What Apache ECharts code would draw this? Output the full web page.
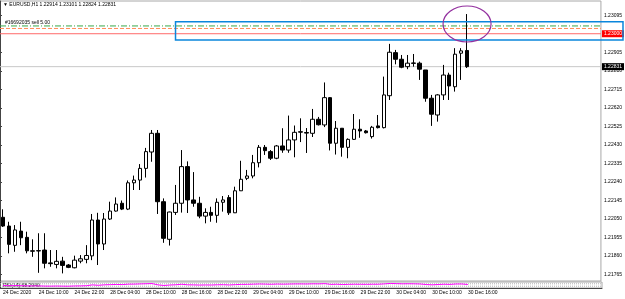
<!DOCTYPE html>
<html>
<head>
<meta charset="utf-8">
<script src="https://cdn.jsdelivr.net/npm/echarts@6/dist/echarts.min.js"></script>
<style>
  html, body { margin: 0; padding: 0; background: #fff; }
  #chart { width: 625px; height: 299px; }
</style>
</head>
<body>
<div id="chart"></div>
<script>
// EURUSD H1 bars
const opens = [
  1.22058, 1.22013, 1.21914, 1.21987, 1.21955, 1.21886, 1.21885, 1.21890, 1.21824, 1.21816,
  1.21833, 1.21813, 1.21799, 1.21833, 1.21842, 1.21860, 1.22044, 1.21921, 1.22049, 1.22090,
  1.22130, 1.22100, 1.22235, 1.22249, 1.22309, 1.22393, 1.22489, 1.22138, 1.21945, 1.22083,
  1.22130, 1.22318, 1.22147, 1.22130, 1.22064, 1.22083, 1.22068, 1.22135, 1.22159, 1.22081,
  1.22194, 1.22258, 1.22270, 1.22338, 1.22417, 1.22395, 1.22361, 1.22424, 1.22403, 1.22455,
  1.22497, 1.22493, 1.22489, 1.22561, 1.22532, 1.22672, 1.22438, 1.22515, 1.22417, 1.22458,
  1.22510, 1.22501, 1.22472, 1.22527, 1.22518, 1.22682, 1.22903, 1.22869, 1.22831, 1.22850,
  1.22849, 1.22814, 1.22669, 1.22583, 1.22686, 1.22788, 1.22728, 1.22900, 1.22914
];
const highs = [
  1.22099, 1.22035, 1.22018, 1.22035, 1.21984, 1.21945, 1.21976, 1.21976, 1.21890, 1.21890,
  1.21855, 1.21818, 1.21861, 1.21864, 1.21915, 1.22075, 1.22081, 1.22080, 1.22138, 1.22160,
  1.22144, 1.22247, 1.22272, 1.22331, 1.22414, 1.22506, 1.22506, 1.22155, 1.22087, 1.22224,
  1.22403, 1.22345, 1.22290, 1.22163, 1.22104, 1.22112, 1.22155, 1.22167, 1.22172, 1.22215,
  1.22348, 1.22301, 1.22378, 1.22429, 1.22429, 1.22403, 1.22429, 1.22515, 1.22580, 1.22529,
  1.22566, 1.22516, 1.22614, 1.22573, 1.22750, 1.22675, 1.22552, 1.22516, 1.22463, 1.22588,
  1.22561, 1.22506, 1.22527, 1.22583, 1.22780, 1.22948, 1.22917, 1.22891, 1.22891, 1.22896,
  1.22857, 1.22814, 1.22686, 1.22690, 1.22840, 1.22800, 1.22926, 1.22926, 1.23101
];
const lows = [
  1.22008, 1.21873, 1.21881, 1.21915, 1.21873, 1.21855, 1.21773, 1.21796, 1.21804, 1.21796,
  1.21770, 1.21797, 1.21796, 1.21822, 1.21822, 1.21838, 1.21813, 1.21890, 1.22044, 1.22087,
  1.22095, 1.22095, 1.22198, 1.22198, 1.22262, 1.22343, 1.22075, 1.21927, 1.21913, 1.22070,
  1.22082, 1.22080, 1.22112, 1.22053, 1.22027, 1.22035, 1.22030, 1.22087, 1.22070, 1.22080,
  1.22193, 1.22249, 1.22258, 1.22314, 1.22378, 1.22352, 1.22356, 1.22389, 1.22389, 1.22366,
  1.22444, 1.22388, 1.22470, 1.22529, 1.22521, 1.22401, 1.22380, 1.22369, 1.22361, 1.22455,
  1.22466, 1.22488, 1.22462, 1.22514, 1.22514, 1.22660, 1.22843, 1.22823, 1.22818, 1.22831,
  1.22763, 1.22651, 1.22527, 1.22549, 1.22660, 1.22660, 1.22703, 1.22763, 1.22824
];
const closes = [
  1.22013, 1.21919, 1.21993, 1.21953, 1.21886, 1.21884, 1.21887, 1.21822, 1.21820, 1.21832,
  1.21811, 1.21801, 1.21838, 1.21845, 1.21862, 1.22044, 1.21921, 1.22049, 1.22090, 1.22126,
  1.22100, 1.22235, 1.22249, 1.22309, 1.22395, 1.22489, 1.22138, 1.21950, 1.22085, 1.22130,
  1.22318, 1.22147, 1.22130, 1.22064, 1.22083, 1.22068, 1.22135, 1.22147, 1.22081, 1.22194,
  1.22253, 1.22270, 1.22338, 1.22417, 1.22400, 1.22361, 1.22424, 1.22403, 1.22455, 1.22494,
  1.22495, 1.22490, 1.22561, 1.22533, 1.22672, 1.22438, 1.22515, 1.22417, 1.22458, 1.22510,
  1.22501, 1.22492, 1.22520, 1.22518, 1.22686, 1.22905, 1.22869, 1.22828, 1.22849, 1.22848,
  1.22818, 1.22669, 1.22587, 1.22686, 1.22788, 1.22732, 1.22895, 1.22912, 1.22831
];
// RSI(14) sub window
const rsi = [
  42, 38, 41, 39, 36, 35, 35, 32, 31, 33, 31, 30, 34, 35, 38,
  52, 45, 53, 56, 59, 57, 64, 65, 68, 71, 74,
  52, 42, 50, 54, 62, 53,
  52, 49, 51, 50, 54, 55, 51,
  56, 60, 61, 64, 67, 65, 62, 66, 64, 66, 68, 68, 67, 70, 69, 73,
  60, 63, 58, 61,
  63, 62, 61, 63, 63, 69,
  76, 73, 70, 71, 70,
  67, 58, 53, 58,
  63, 60, 67, 67, 58.294
];
// x labels every 6 bars
const timeLabels = [
  '24 Dec 2020', '24 Dec 10:00', '24 Dec 22:00', '28 Dec 04:00', '28 Dec 10:00',
  '28 Dec 16:00', '28 Dec 22:00', '29 Dec 04:00', '29 Dec 10:00', '29 Dec 16:00',
  '29 Dec 22:00', '30 Dec 04:00', '30 Dec 10:00', '30 Dec 16:00'
];
const priceTicks = [
  1.21765, 1.21860, 1.21955, 1.22050, 1.22145, 1.22240, 1.22335,
  1.22430, 1.22525, 1.22620, 1.22715, 1.22810, 1.22905, 1.23095
];
const levelLine = 1.23000;   // red line, red tag
const bidLine = 1.22831;     // grey bid line, black tag
const tpLine = 1.23040;      // green dash-dot
const orderLine = 1.23027;   // orange dashed
const rsiLevels = [30, 70];

const slots = 101; // chart shift leaves empty space on the right
const cats = Array.from({ length: slots }, (_, i) => String(i));
const ohlc = opens.map((o, i) => [o, closes[i], lows[i], highs[i]]);

const FONT = 'Liberation Sans';

// horizontal line across the whole main window, drawn on the hidden 0..1 x axis
const hLine = (name, v, color, type, tag, z) => ({
  name, type: 'line', xAxisIndex: 2, yAxisIndex: 0, z: z || 2,
  data: [[0, v], [1, v]], showSymbol: false, silent: true,
  lineStyle: { color, width: 1, type },
  endLabel: tag ? {
    show: true, distance: 1, formatter: v.toFixed(5), color: '#fff',
    backgroundColor: tag, fontSize: 5, padding: [1, 2], fontFamily: FONT
  } : { show: false }
});

const chart = echarts.init(document.getElementById('chart'), null, { renderer: 'canvas' });

const option = {
  animation: false,
  backgroundColor: '#fff',
  textStyle: { fontFamily: FONT },
  grid: [
    { left: 0, top: 1, width: 602, height: 280, show: true, borderColor: '#a8a8a8', borderWidth: 1 },
    { left: 0, top: 282, width: 602, height: 6, show: true, borderColor: '#a8a8a8', borderWidth: 1 }
  ],
  xAxis: [
    { type: 'category', gridIndex: 0, data: cats, boundaryGap: true, show: false },
    {
      type: 'category', gridIndex: 1, data: cats, boundaryGap: true,
      axisLine: { lineStyle: { color: '#444' } },
      axisTick: { interval: 5, alignWithLabel: true, length: 3, lineStyle: { color: '#444' } },
      axisLabel: {
        interval: 5, align: 'left', fontSize: 5, margin: 2, color: '#000', fontFamily: FONT,
        formatter: (v, idx) => timeLabels[idx / 6] || ''
      },
      splitLine: { show: false }
    },
    { type: 'value', gridIndex: 0, min: 0, max: 1, show: false },
    { type: 'value', gridIndex: 1, min: 0, max: 1, show: false }
  ],
  yAxis: [
    {
      type: 'value', gridIndex: 0, position: 'right', min: 1.21731, max: 1.23168,
      axisLine: { show: true, lineStyle: { color: '#444' } },
      axisTick: { show: true, length: 2, customValues: priceTicks, lineStyle: { color: '#444' } },
      axisLabel: {
        customValues: priceTicks, fontSize: 5, margin: 3, color: '#000', fontFamily: FONT,
        formatter: v => v.toFixed(5)
      },
      splitLine: { show: false }
    },
    {
      type: 'value', gridIndex: 1, position: 'right', min: 0, max: 100,
      axisLine: { show: true, lineStyle: { color: '#444' } },
      axisTick: { show: false }, axisLabel: { show: false }, splitLine: { show: false }
    }
  ],
  series: [
    hLine('bid', bidLine, '#c8c8c8', 'solid', '#000', 1),
    hLine('tp', tpLine, '#3aa84a', [6, 2, 1, 2]),
    hLine('order', orderLine, '#ff8c5a', [4, 2]),
    hLine('level', levelLine, '#ff6a6a', 'solid', '#ff0000'),
    {
      name: 'EURUSD', type: 'candlestick', xAxisIndex: 0, yAxisIndex: 0, z: 3,
      barWidth: 4,
      itemStyle: { color: '#fff', color0: '#000', borderColor: '#000', borderColor0: '#000', borderWidth: 1 },
      data: ohlc
    },
    ...rsiLevels.map(v => ({
      name: 'rsi' + v, type: 'line', xAxisIndex: 3, yAxisIndex: 1,
      data: [[0, v], [1, v]], showSymbol: false, silent: true,
      lineStyle: { color: '#b0b0b0', width: 1, type: 'dotted' }
    })),
    {
      name: 'RSI(14)', type: 'line', xAxisIndex: 1, yAxisIndex: 1, z: 3,
      data: rsi, showSymbol: false, lineStyle: { color: '#ff00ff', width: 1 }
    }
  ]
};
chart.setOption(option);

// drawn objects: blue rectangle and purple ellipse, placed through the axes
const rTop = chart.convertToPixel({ xAxisIndex: 0, yAxisIndex: 0 }, [29, 1.23061]);
const rBot = chart.convertToPixel({ xAxisIndex: 0, yAxisIndex: 0 }, [29, 1.22968]);
const eC = chart.convertToPixel({ xAxisIndex: 0, yAxisIndex: 0 }, [78, 1.23050]);

chart.setOption({
  graphic: [
    {
      type: 'text', left: 3, top: 2,
      style: { text: '\u25BC EURUSD,H1 1.22914 1.23101 1.22824 1.22831', fill: '#000', font: '5px "Liberation Sans", "DejaVu Sans"' }
    },
    {
      type: 'text', left: 5, top: 20,
      style: { text: '#16692035 sell 5.00', fill: '#000', font: '5px "Liberation Sans"' }
    },
    {
      type: 'text', left: 3, top: 283,
      style: { text: 'RSI(14) 58.2940', fill: '#000', font: '5px "Liberation Sans"' }
    },
    {
      type: 'rect', z: 10,
      shape: { x: rTop[0], y: rTop[1], width: 623 - rTop[0], height: rBot[1] - rTop[1] },
      style: { fill: 'none', stroke: '#0a86dc', lineWidth: 1.5 }
    },
    {
      type: 'ellipse', z: 10,
      shape: { cx: eC[0], cy: eC[1], rx: 24, ry: 18 },
      style: { fill: 'none', stroke: '#93309f', lineWidth: 1.2 }
    }
  ]
});
</script>
</body>
</html>
